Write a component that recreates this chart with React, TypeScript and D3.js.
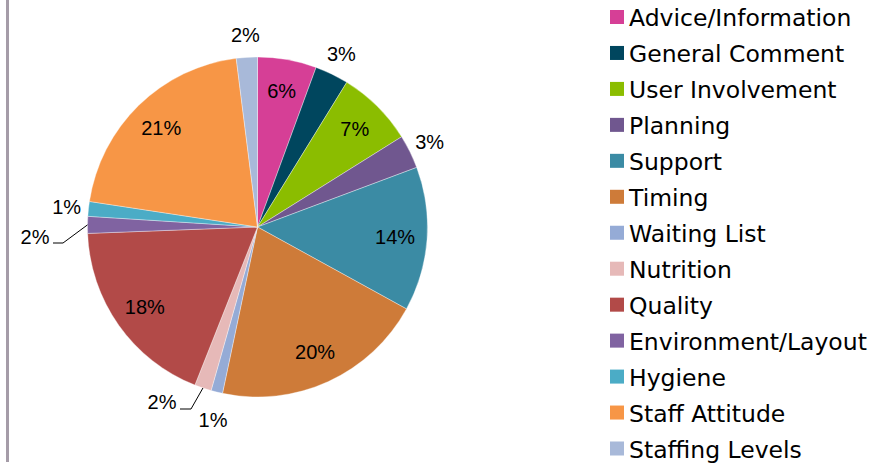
import React, { useEffect, useRef } from 'react';
import * as d3 from 'd3';

const categories = [
  'Advice/Information',
  'General Comment',
  'User Involvement',
  'Planning',
  'Support',
  'Timing',
  'Waiting List',
  'Nutrition',
  'Quality',
  'Environment/Layout',
  'Hygiene',
  'Staff Attitude',
  'Staffing Levels',
];

const shares = [5.6, 3.2, 7.3, 3.2, 13.7, 20.3, 1.1, 1.6, 18.4, 1.6, 1.4, 20.6, 2.0];

const colors = [
  '#D63F96',
  '#00465E',
  '#8BBD00',
  '#70578F',
  '#3B8BA4',
  '#CE7B39',
  '#95ABD6',
  '#E6B9B8',
  '#B24A48',
  '#8063A1',
  '#4BACC6',
  '#F79646',
  '#A8B9D9',
];

// labels Excel moved by hand (some with a leader line)
const movedLabels: Record<string, { x: number; y: number; leader?: [number, number][] }> = {
  'Waiting List': { x: 213, y: 420 },
  Nutrition: { x: 162, y: 402, leader: [[191, 409], [180, 409]] },
  'Environment/Layout': { x: 35, y: 237, leader: [[63, 243], [53, 243]] },
};

const W = 880;
const H = 465;

const App = () => {
  const ref = useRef<SVGSVGElement>(null);

  useEffect(() => {
    document.body.style.margin = '0';
    const svg = d3.select(ref.current);
    svg.selectAll('*').remove();

    const cx = 257.5;
    const cy = 227;
    const radius = 170;

    // left border line
    svg.append('rect')
      .attr('x', 6)
      .attr('y', 0)
      .attr('width', 3)
      .attr('height', 462)
      .attr('fill', '#A59CA8');

    const pie = d3.pie<number>().sort(null).value(d => d);
    const arcs = pie(shares);

    const arc = d3.arc<d3.PieArcDatum<number>>().innerRadius(0).outerRadius(radius);
    const inner = d3.arc<d3.PieArcDatum<number>>().innerRadius(138).outerRadius(138);
    const outer = d3.arc<d3.PieArcDatum<number>>().innerRadius(192).outerRadius(192);
    const edge = d3.arc<d3.PieArcDatum<number>>().innerRadius(radius).outerRadius(radius);

    const g = svg.append('g').attr('transform', `translate(${cx},${cy})`);

    g.selectAll('path.slice')
      .data(arcs)
      .enter().append('path')
      .attr('class', 'slice')
      .attr('d', arc)
      .attr('fill', (d, i) => colors[i])
      .attr('stroke', '#ffffff')
      .attr('stroke-opacity', 0.6)
      .attr('stroke-width', 0.6);

    arcs.forEach((d, i) => {
      const name = categories[i];
      const text = `${Math.round(d.data)}%`;
      let x: number;
      let y: number;
      const moved = movedLabels[name];
      if (moved) {
        x = moved.x - cx;
        y = moved.y - cy;
        if (moved.leader) {
          const [ex, ey] = edge.centroid(d);
          const pts: [number, number][] = [[ex, ey], ...moved.leader.map(p => [p[0] - cx, p[1] - cy] as [number, number])];
          g.append('path')
            .attr('d', d3.line()(pts))
            .attr('fill', 'none')
            .attr('stroke', '#000')
            .attr('stroke-width', 1);
        }
      } else if (d.data >= 5) {
        [x, y] = inner.centroid(d);
      } else {
        [x, y] = outer.centroid(d);
      }
      g.append('text')
        .attr('x', x)
        .attr('y', y)
        .attr('dy', '0.35em')
        .attr('text-anchor', 'middle')
        .style('font-family', '"Liberation Sans", Arial, sans-serif')
        .style('font-size', '20px')
        .style('fill', '#000')
        .text(text);
    });

    // legend
    const legendY = d3.scalePoint<string>()
      .domain(categories)
      .range([17, 448.5]);

    const legend = svg.append('g');
    categories.forEach((c, i) => {
      const yy = legendY(c) as number;
      legend.append('rect')
        .attr('x', 610)
        .attr('y', yy - 7)
        .attr('width', 14)
        .attr('height', 14)
        .attr('fill', colors[i]);
      legend.append('text')
        .attr('x', 629)
        .attr('y', yy + 9)
        .style('font-family', '"DejaVu Sans", Verdana, sans-serif')
        .style('font-size', '23.5px')
        .style('fill', '#000')
        .text(c);
    });
  }, []);

  return <svg ref={ref} width={W} height={H} style={{ display: 'block' }}></svg>;
};

export default App;
